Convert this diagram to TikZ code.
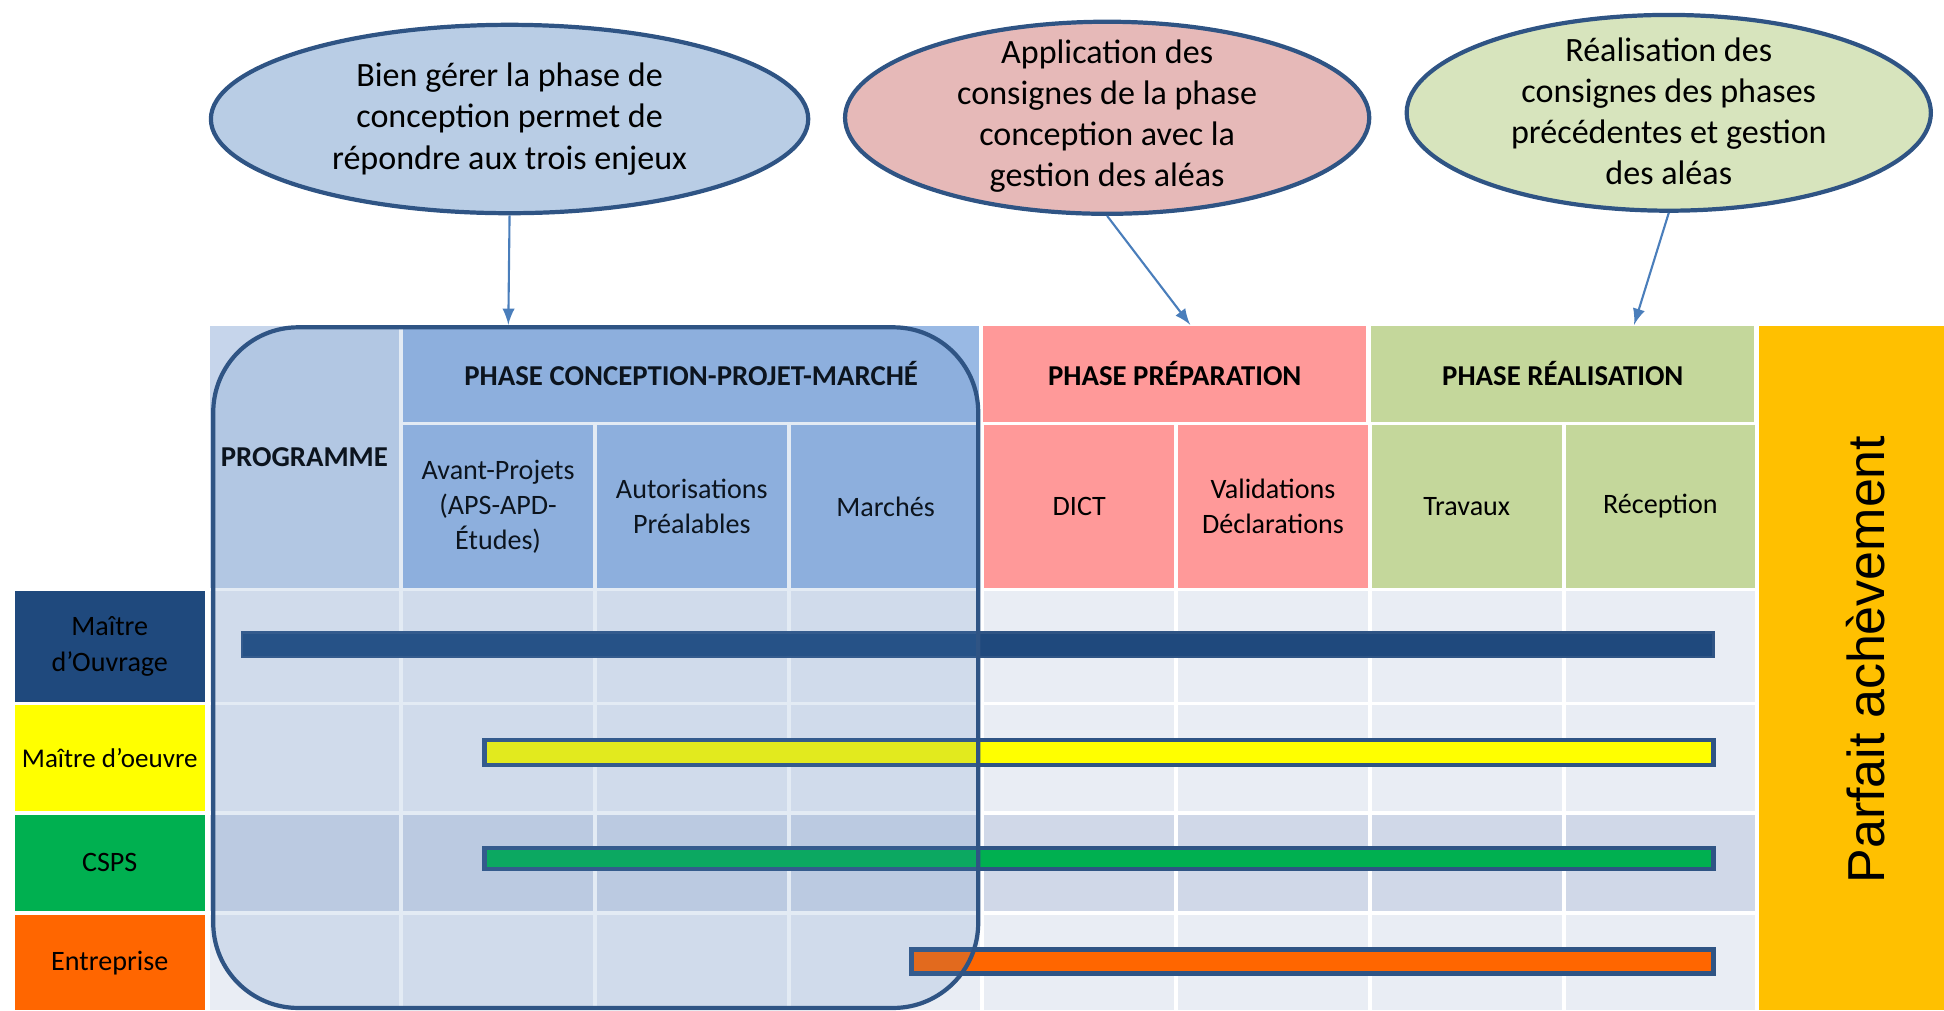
\documentclass[tikz,border=0pt]{standalone}
\usepackage{fontspec}
\setmainfont{Carlito}
\newfontfamily\arialfont{Liberation Sans}
\usepackage{tikz}
\usetikzlibrary{
  shapes.geometric,
  calc
}
\usetikzlibrary{arrows}

\definecolor{marine}{HTML}{1F497D}
\definecolor{contour}{HTML}{2F5484}
\definecolor{flecheb}{HTML}{4A7EBB}
\definecolor{progbleu}{HTML}{C6D5EB}
\definecolor{concbleu}{HTML}{99B9E4}
\definecolor{preprose}{HTML}{FF9999}
\definecolor{realvert}{HTML}{C4D79B}
\definecolor{pajaune}{HTML}{FFC000}
\definecolor{fondclair}{HTML}{E9EDF4}
\definecolor{fondfonce}{HTML}{D0D8E8}
\definecolor{bulleB}{HTML}{B9CDE5}
\definecolor{bulleR}{HTML}{E6B9B8}
\definecolor{bulleV}{HTML}{D7E4BD}
\definecolor{moejaune}{HTML}{FFFF00}
\definecolor{cspsvert}{HTML}{00B050}
\definecolor{entorange}{HTML}{FF6600}
\definecolor{teinte}{HTML}{4F81BD}

\begin{document}
\begin{tikzpicture}[x=0.0124cm, y=-0.0124cm,
  bulle/.style={ellipse, draw=contour, line width=1.2pt, inner sep=0pt},
  texte bulle/.style={align=center, font=\fontsize{9.7}{11.7}\selectfont},
  entete/.style={inner sep=0pt, align=center, font=\bfseries\fontsize{8.2}{10}\selectfont},
  souscase/.style={inner sep=0pt, align=center, minimum width=1.897cm, minimum height=1.624cm, font=\fontsize{8}{10}\selectfont},
  acteur/.style={inner sep=0pt, align=center, minimum width=1.897cm, font=\fontsize{8}{10.2}\selectfont},
  barre/.style={draw=contour, line width=1.3pt},
  fleche/.style={-latex, draw=flecheb, line width=0.6pt}
]
\useasboundingbox (0,0) rectangle (1568,815);

% fond des lignes
\foreach \yh/\h/\c in {477/89/fondclair, 569/85/fondclair, 657/78/fondfonce, 738/77/fondclair}
  \foreach \k in {0,...,7}
    \fill[\c] ({169+156.25*\k},\yh) rectangle +(153,\h);

\node[entete, fill=progbleu, minimum width=1.897cm, minimum height=2.616cm] (prog) at (245.5,368.5) {PROGRAMME};
\node[entete, fill=concbleu, minimum width=5.766cm, minimum height=0.955cm] (conc) at (557.5,301.5) {PHASE CONCEPTION-PROJET-MARCHÉ};
\node[entete, fill=preprose, minimum width=3.832cm, minimum height=0.955cm] (prep) at (947.5,301.5) {PHASE PRÉPARATION};
\node[entete, fill=realvert, minimum width=3.832cm, minimum height=0.955cm] (real) at (1260.5,301.5) {PHASE RÉALISATION};

\node[souscase, fill=concbleu] (avp) at (401.75,408.5) {Avant-Projets\\(APS-APD-\\Études)};
\node[souscase, fill=concbleu] (autor) at (558,408.5) {Autorisations\\Préalables};
\node[souscase, fill=concbleu] (march) at (714.25,408.5) {Marchés};
\node[souscase, fill=preprose] (dict) at (870.5,408.5) {DICT};
\node[souscase, fill=preprose] (valid) at (1026.75,408.5) {Validations\\Déclarations};
\node[souscase, fill=realvert] (trav) at (1183,408.5) {Travaux};
\node[souscase, fill=realvert] (recep) at (1339.25,408.5) {Réception};

\node[acteur, fill=marine, minimum height=1.104cm] (moa) at (88.5,521.5) {Maître\\d’Ouvrage};
\node[acteur, fill=moejaune, minimum height=1.054cm, font=\fontsize{7.7}{10}\selectfont] (moe) at (88.5,611.5) {Maître d’oeuvre};
\node[acteur, fill=cspsvert, minimum height=0.967cm] (csps) at (88.5,696) {CSPS};
\node[acteur, fill=entorange, minimum height=0.955cm] (entr) at (88.5,776.5) {Entreprise};

\fill[pajaune] (1419,263) rectangle (1568,815);
\node[rotate=90, font=\arialfont\fontsize{14.8}{16}\selectfont] (pa) at (1505,532) {Parfait achèvement};

% barres
\draw[barre, line width=0.7pt, fill=marine] (195,510) rectangle (1382,530);
\draw[barre, fill=moejaune] (391,597) rectangle (1382,617);
\draw[barre, fill=cspsvert] (391,684) rectangle (1382,701);
\draw[barre, fill=entorange] (735,766) rectangle (1382,785);

\draw[contour, line width=1.2pt, fill=teinte, fill opacity=0.16, rounded corners=0.85cm] (172,264) rectangle (789,813);

\node[bulle, fill=bulleB, minimum width=5.977cm, minimum height=1.885cm] (b1) at (411,96) {};
\node[texte bulle] (t1) at (b1) {Bien gérer la phase de\\conception permet de\\répondre aux trois enjeux};
\node[bulle, fill=bulleR, minimum width=5.245cm, minimum height=1.922cm] (b2) at (893,95) {};
\node[texte bulle] (t2) at (893,93.5) {Application des\\consignes de la phase\\conception avec la\\gestion des aléas};
\node[bulle, fill=bulleV, minimum width=5.245cm, minimum height=1.959cm] (b3) at (1346,91) {};
\node[texte bulle] (t3) at (1346,90) {Réalisation des\\consignes des phases\\précédentes et gestion\\des aléas};

\coordinate (p1) at (410,262);
\coordinate (p2) at (960,262);
\coordinate (p3) at (1318,262);
\draw[fleche] (b1.south) -- (p1);
\draw[fleche] (b2.south) -- (p2);
\draw[fleche] (b3.south) -- (p3);
\end{tikzpicture}
\end{document}
